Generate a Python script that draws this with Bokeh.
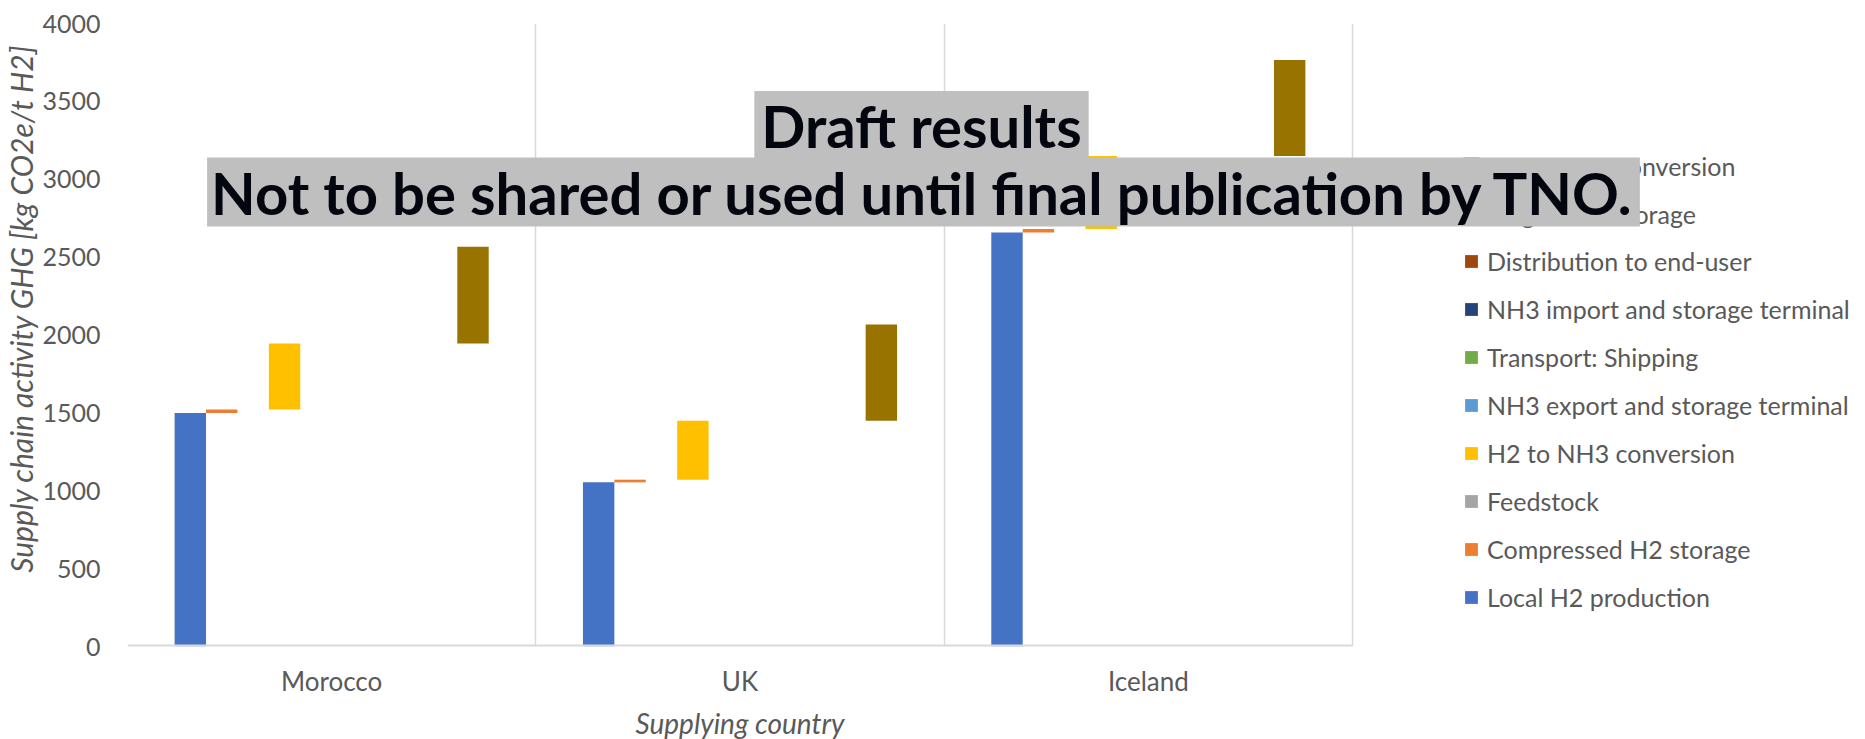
import numpy as np
from bokeh.plotting import figure
from bokeh.models import (ColumnDataSource, Range1d, FixedTicker, Legend, LegendItem, Label,
                          LinearAxis)
from bokeh.core.properties import value
from bokeh.embed import file_html
from bokeh.resources import INLINE

countries = ["Morocco", "UK", "Iceland"]
stages = ["Local H2 production", "Compressed H2 storage", "Feedstock", "H2 to NH3 conversion",
          "NH3 export and storage terminal", "Transport: Shipping", "NH3 import and storage terminal",
          "Distribution to end-user", "Large scale storage", "NH3 to H2 conversion"]
colors = ["#4472C4", "#ED7D31", "#A5A5A5", "#FFC000", "#5B9BD5", "#70AD47", "#264478",
          "#9E480E", "#636363", "#997300"]

local_h2 = [1500, 1054, 2658]
compressed_h2 = [22, 17, 22]
feedstock = [0, 0, 0]
h2_to_nh3 = [424, 379, 470]
nh3_export = [0, 0, 0]
shipping = [0, 0, 0]
nh3_import = [0, 0, 0]
distribution = [0, 0, 0]
large_storage = [0, 0, 0]
nh3_to_h2 = [621, 618, 616]

series = [local_h2, compressed_h2, feedstock, h2_to_nh3, nh3_export, shipping,
          nh3_import, distribution, large_storage, nh3_to_h2]

y_ticks = [0, 500, 1000, 1500, 2000, 2500, 3000, 3500, 4000]
x_title = "Supplying country"
y_title = "Supply chain activity GHG [kg CO2e/t H2]"
Y_TITLE_POS = 2170  # vertical placement of the y title (data units)

FONT = "Lato"
GREY = "#595959"
GRID = "#D9D9D9"

# layout: plot area of the categories is 1225 px wide; frame extends right to hold legend
DATA_W = 1225
FRAME_W = 1733
FRAME_H = 623
Y_MAX = 4000
x_end = len(countries) * FRAME_W / DATA_W
x_per_px = len(countries) / DATA_W
y_per_px = Y_MAX / FRAME_H

p = figure(frame_width=FRAME_W, frame_height=FRAME_H, output_backend="svg", toolbar_location=None,
           x_range=Range1d(0, x_end), y_range=Range1d(0, Y_MAX),
           min_border_left=127, min_border_top=23, min_border_right=0, min_border_bottom=20)
p.outline_line_color = None
p.background_fill_color = "white"

vals = np.array(series, dtype=float)
tops = np.cumsum(vals, axis=0)
bottoms = tops - vals
n = len(stages)
w = 1.0 / (n + 3)

renderers = []
for j, (name, col) in enumerate(zip(stages, colors)):
    xs = [i + (2 + j) * w for i in range(len(countries))]
    src = ColumnDataSource(dict(x=xs, bottom=bottoms[j], top=tops[j]))
    r = p.vbar(x="x", bottom="bottom", top="top", width=w, source=src,
               fill_color=col, line_color=None)
    renderers.append(r)

# category axis baseline
p.segment(x0=[0], y0=[0], x1=[len(countries)], y1=[0], line_color=GRID, line_width=4)

# x axis (categories)
p.xaxis.ticker = FixedTicker(ticks=[i + 0.5 for i in range(len(countries))])
p.xaxis.major_label_overrides = {i + 0.5: c for i, c in enumerate(countries)}
p.xaxis.major_tick_line_color = None
p.xaxis.major_tick_out = 0
p.xaxis.major_tick_in = 0
p.xaxis.minor_tick_line_color = None
p.xaxis.minor_tick_out = 0
p.xaxis.axis_line_color = None
p.xaxis.major_label_standoff = 18
p.xaxis.major_label_text_font = FONT
p.xaxis.major_label_text_font_size = "26px"
p.xaxis.major_label_text_color = GREY

# x title as second axis below
xt_pos = len(countries) / 2
xt_axis = LinearAxis(ticker=FixedTicker(ticks=[xt_pos]),
                     major_label_overrides={xt_pos: x_title})
xt_axis.axis_line_color = None
xt_axis.major_tick_line_color = None
xt_axis.major_tick_out = 0
xt_axis.major_tick_in = 0
xt_axis.minor_tick_line_color = None
xt_axis.minor_tick_out = 0
xt_axis.major_label_standoff = 6
xt_axis.major_label_text_font = FONT
xt_axis.major_label_text_font_size = "28px"
xt_axis.major_label_text_font_style = "italic"
xt_axis.major_label_text_color = GREY
p.add_layout(xt_axis, "below")

# y axis
p.yaxis.ticker = FixedTicker(ticks=y_ticks)
p.yaxis.major_tick_line_color = None
p.yaxis.major_tick_out = 0
p.yaxis.major_tick_in = 0
p.yaxis.minor_tick_line_color = None
p.yaxis.minor_tick_out = 0
p.yaxis.axis_line_color = None
p.yaxis.major_label_standoff = 27
p.yaxis.major_label_text_font = FONT
p.yaxis.major_label_text_font_size = "25px"
p.yaxis.major_label_text_color = GREY

# y title as second axis on the left
yt_axis = LinearAxis(ticker=FixedTicker(ticks=[Y_TITLE_POS]),
                     major_label_overrides={Y_TITLE_POS: y_title},
                     major_label_orientation="parallel")
yt_axis.axis_line_color = None
yt_axis.major_tick_line_color = None
yt_axis.major_tick_out = 0
yt_axis.major_tick_in = 0
yt_axis.minor_tick_line_color = None
yt_axis.minor_tick_out = 0
yt_axis.major_label_standoff = 0
yt_axis.major_label_text_font = FONT
yt_axis.major_label_text_font_size = "30px"
yt_axis.major_label_text_font_style = "italic"
yt_axis.major_label_text_color = GREY
p.add_layout(yt_axis, "left")

p.ygrid.grid_line_color = None
p.xgrid.ticker = FixedTicker(ticks=list(range(len(countries) + 1)))
p.xgrid.grid_line_color = GRID
p.xgrid.grid_line_width = 1.5

# legend: layout in px relative to the frame
LEG_X = 1336          # left edge of the legend squares
LEG_BOTTOM = 33       # bottom of the legend box above frame bottom
ROW = 48              # row pitch
N_COVERED = 2         # top rows that lie under the watermark (drawn as glyphs)

legend_order = list(reversed(range(n)))
covered = legend_order[:N_COVERED]
shown = legend_order[N_COVERED:]

items = [LegendItem(label=stages[j], renderers=[renderers[j]]) for j in shown]
legend = Legend(items=items, location=(LEG_X, LEG_BOTTOM), orientation="vertical",
                glyph_width=16, glyph_height=16, label_height=32, label_standoff=8, spacing=16,
                padding=0, margin=0, border_line_color=None, background_fill_alpha=0,
                label_text_font=FONT, label_text_font_size="25px", label_text_color=GREY)
p.add_layout(legend)

# the rows hidden under the watermark: drawn at glyph level so the watermark covers them
bottom_row_center = LEG_BOTTOM + 16
cov_rows = [bottom_row_center + ROW * (n - 1 - k) for k in range(N_COVERED)]
cov_src = ColumnDataSource(dict(
    x=[(LEG_X + 8) * x_per_px] * N_COVERED,
    tx=[(LEG_X + 24) * x_per_px] * N_COVERED,
    y=[r * y_per_px for r in cov_rows],
    label=[stages[j] for j in covered],
    color=[colors[j] for j in covered]))
p.rect(x="x", y="y", width=16, height=16, width_units="screen", height_units="screen",
       fill_color="color", line_color=None, source=cov_src)
p.text(x="tx", y="y", text="label", text_font=value(FONT), text_font_size="25px",
       text_color=GREY, text_baseline="middle", text_align="left", source=cov_src)

wm1 = Label(x=794, y=521, x_units="screen", y_units="screen", text="Draft results",
            text_align="center", text_baseline="middle", text_font=FONT,
            text_font_size="58px", text_font_style="bold", text_color="#03060F",
            background_fill_color="#BFBFBF", padding=(7, 0), level="overlay")
wm2 = Label(x=796, y=454.5, x_units="screen", y_units="screen",
            text="Not to be shared or used until final publication by TNO.",
            text_align="center", text_baseline="middle", text_font=FONT,
            text_font_size="58px", text_font_style="bold", text_color="#03060F",
            background_fill_color="#BFBFBF", padding=(4, 0), level="overlay")
p.add_layout(wm1)
p.add_layout(wm2)

open("out.html", "w").write(file_html(p, INLINE))
